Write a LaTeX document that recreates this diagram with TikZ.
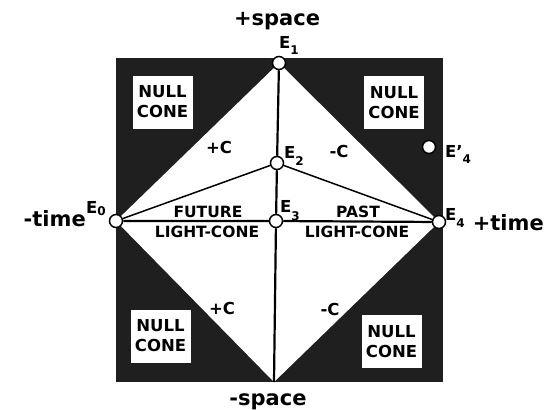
\documentclass[tikz,border=0pt]{standalone}
\usepackage{fontspec}
\setmainfont{DejaVu Sans}
\newcommand\evlab[3]{#1\raisebox{#2}{\fontsize{12}{12}\selectfont #3}}
\begin{document}
\begin{tikzpicture}[x=1pt,y=-1pt,
  ev/.style={circle,draw=black,line width=1.5pt,fill=white,inner sep=0pt,minimum size=13pt},
  lbl/.style={font=\fontsize{16.5}{16.5}\selectfont\bfseries,inner sep=0pt,anchor=base west},
  axislab/.style={font=\fontsize{21}{21}\selectfont\bfseries,inner sep=0pt},
  speed/.style={font=\fontsize{16.5}{16.5}\selectfont\bfseries,inner sep=0pt},
  cone/.style={font=\fontsize{15.5}{15.5}\selectfont\bfseries,inner sep=0pt,anchor=base},
  nullbox/.style={fill=white,inner sep=0pt,minimum width=60pt,minimum height=53pt,align=center,font=\fontsize{16.5}{20}\selectfont\bfseries},
  heavy/.style={line width=2.2pt},
  light/.style={line width=1.5pt}]
\useasboundingbox (0,0) rectangle (547,410);
% dark square and white diamond
\fill[black!88] (116,58) rectangle (443,382);
\fill[white] (116,221) -- (279,63) -- (439,222) -- (274,382) -- cycle;
% null cone boxes
\node[nullbox] (n1) at (162.5,102) {NULL\\CONE};
\node[nullbox] (n2) at (394,102.5) {NULL\\CONE};
\node[nullbox] (n3) at (160.5,336) {NULL\\CONE};
\node[nullbox] (n4) at (391.5,341.5) {NULL\\CONE};
% events
\node[ev] (E0) at (116,221) {};
\node[ev] (E1) at (279,63) {};
\node[ev] (E2) at (277,163) {};
\node[ev] (E3) at (276,221) {};
\node[ev] (E4) at (439,222) {};
\node[ev] (E4p) at (429,147) {};
\coordinate (B) at (274,382);
% connectors
\draw[heavy] (E1) -- (E2) -- (E3) -- (B);
\draw[heavy] (E0) -- (E3) -- (E4);
\draw[light] (E0) -- (E2) -- (E4);
% event labels
\node[lbl] (l0) at (86,213) {\evlab{E}{-2pt}{0}};
\node[lbl] (l1) at (279,48) {\evlab{E}{-6pt}{1}};
\node[lbl] (l2) at (284,158) {\evlab{E}{-7pt}{2}};
\node[lbl] (l3) at (280,212) {\evlab{E}{-8pt}{3}};
\node[lbl] (l4) at (445,220) {\evlab{E}{-7pt}{4}};
\node[lbl] (l4p) at (445,157) {\evlab{E'}{-6pt}{4}};
% speed labels
\node[speed] (c1) at (219,147) {+C};
\node[speed] (c2) at (339,151) {-C};
\node[speed] (c3) at (222,308) {+C};
\node[speed] (c4) at (330,309) {-C};
% light-cone labels
\node[cone] (f1) at (208,217) {FUTURE};
\node[cone] (f2) at (207,237) {LIGHT-CONE};
\node[cone] (p1) at (358,217) {PAST};
\node[cone] (p2) at (357,237) {LIGHT-CONE};
% axis labels
\node[axislab,anchor=base] (sp) at (277,25) {+space};
\node[axislab,anchor=base] (sm) at (268,405) {-space};
\node[axislab,anchor=base east] (tm) at (86,226) {-time};
\node[axislab,anchor=base east] (tp) at (544,230) {+time};
\end{tikzpicture}
\end{document}
